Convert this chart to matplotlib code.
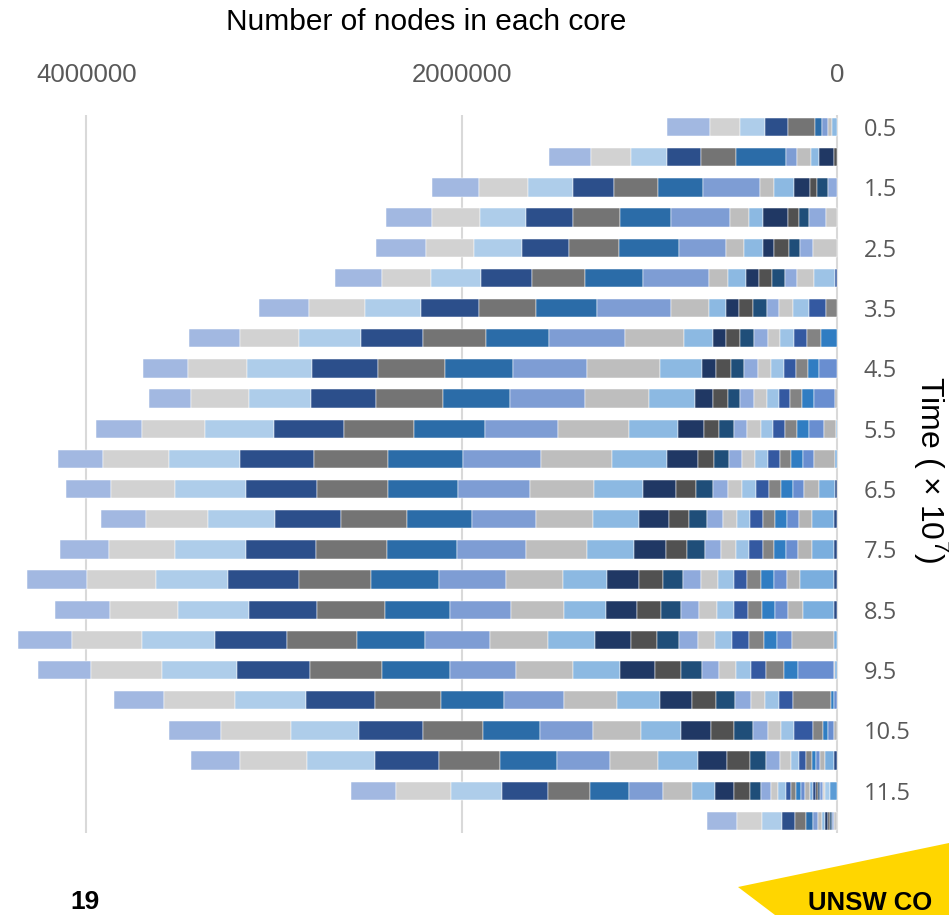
import matplotlib
matplotlib.use("Agg")
import matplotlib.pyplot as plt
from matplotlib.patches import Polygon
import numpy as np

# Time points (x 10^7) and node counts per core (thousands), outermost core first
times = [0.5, 1.0, 1.5, 2.0, 2.5, 3.0, 3.5, 4.0, 4.5, 5.0, 5.5, 6.0,
         6.5, 7.0, 7.5, 8.0, 8.5, 9.0, 9.5, 10.0, 10.5, 11.0, 11.5, 12.0]

core_counts = [
    [231, 156, 137, 121, 144, 37, 32, 23, 25],
    [227, 213, 192, 178, 187, 268, 59, 76, 41, 78, 18],
    [249, 259, 240, 222, 231, 240, 305, 76, 107, 84, 36, 59, 48],
    [247, 256, 245, 249, 248, 276, 314, 101, 73, 131, 62, 50, 94, 57],
    [266, 257, 254, 252, 268, 318, 250, 98, 101, 59, 78, 59, 68, 128],
    [252, 260, 267, 272, 281, 309, 352, 103, 96, 66, 71, 71, 62, 92, 108, 13],
    [266, 298, 302, 305, 307, 323, 396, 201, 92, 69, 76, 71, 67, 75, 84, 89, 59],
    [270, 316, 329, 332, 333, 339, 403, 313, 155, 71, 75, 76, 71, 66, 75, 68, 76, 84],
    [240, 314, 343, 352, 359, 361, 394, 387, 226, 76, 78, 71, 71, 73, 66, 66, 64, 60, 94],
    [229, 305, 334, 346, 353, 357, 403, 341, 241, 98, 78, 68, 71, 71, 62, 62, 62, 66, 108, 13],
    [249, 336, 364, 373, 375, 377, 391, 377, 263, 139, 80, 75, 71, 75, 64, 66, 62, 62, 80, 66, 5],
    [243, 350, 378, 394, 396, 400, 414, 377, 293, 165, 88, 75, 71, 71, 68, 62, 61, 62, 62, 112, 9],
    [240, 341, 375, 380, 378, 373, 382, 341, 266, 174, 105, 94, 77, 75, 75, 71, 62, 62, 62, 80, 85, 9],
    [240, 330, 355, 354, 352, 343, 341, 307, 243, 160, 110, 94, 85, 75, 67, 69, 68, 62, 62, 71, 119, 14],
    [263, 350, 377, 373, 378, 373, 368, 325, 248, 173, 112, 94, 89, 78, 71, 71, 62, 62, 62, 77, 119, 14],
    [323, 368, 384, 376, 382, 364, 355, 305, 237, 168, 130, 104, 94, 94, 83, 71, 75, 67, 71, 71, 181, 14],
    [297, 361, 376, 364, 364, 346, 325, 282, 222, 165, 128, 107, 98, 94, 92, 71, 77, 67, 71, 80, 167, 14],
    [291, 370, 391, 382, 373, 364, 346, 307, 252, 190, 142, 116, 100, 92, 92, 89, 80, 71, 77, 222, 18],
    [279, 382, 400, 387, 382, 364, 350, 307, 249, 187, 139, 110, 94, 89, 80, 80, 92, 77, 190, 9, 9],
    [268, 377, 378, 364, 355, 336, 320, 281, 227, 173, 129, 101, 84, 76, 75, 71, 206, 12, 18],
    [275, 373, 364, 341, 320, 302, 284, 253, 213, 160, 124, 98, 80, 71, 71, 98, 53, 27, 32, 18],
    [261, 357, 362, 343, 323, 307, 280, 258, 211, 157, 120, 89, 71, 61, 44, 37, 30, 23, 21, 27, 48, 14],
    [240, 293, 272, 245, 225, 208, 177, 157, 124, 98, 84, 62, 50, 41, 39, 30, 28, 25, 20, 25, 20,
     12, 14, 12, 12, 14, 23, 39],
    [157, 133, 107, 71, 57, 35, 27, 23, 14, 18, 12, 9, 9, 18],
]

palette = [
    "#A2B8E1", "#D2D2D2", "#AECDEA", "#2C4F8B", "#747474", "#2B6CA8",
    "#7E9DD4", "#BEBEBE", "#8CB9E2", "#203864", "#515151", "#1F4E79",
    "#8FAADC", "#C8C8C8", "#9DC3E6", "#3459A1", "#838383", "#307DC2",
    "#698ED0", "#B4B4B4", "#7AAEDE", "#2A4A85", "#3F3F3F", "#244F80",
    "#7F9FD8", "#CFCFCF", "#A8CCEC", "#5B9BD5",
]

tick_values = [4000000, 2000000, 0]
tick_labels = ["4000000", "2000000", "0"]

W, H = 949, 915
fig = plt.figure(figsize=(W / 100, H / 100), dpi=100)

px_per_unit = 187.7 / 1e6
ax_left_px, ax_right_px = 0, 840
ax_top_px, ax_bottom_px = 115, 833
zero_px = 837
ax = fig.add_axes([ax_left_px / W, 1 - ax_bottom_px / H,
                   (ax_right_px - ax_left_px) / W, (ax_bottom_px - ax_top_px) / H])

# stacked horizontal bars growing leftwards from zero
for i, row in enumerate(core_counts):
    vals = np.array(row, dtype=float) * 1000
    total = vals.sum()
    cum = np.cumsum(vals)
    for j, v in enumerate(vals):
        ax.barh(i, v, left=total - cum[j], height=0.61,
                color=palette[j % len(palette)], edgecolor="white",
                linewidth=0.35, zorder=3)

ax.set_xlim((zero_px - ax_left_px) / px_per_unit, (zero_px - ax_right_px) / px_per_unit)
ax.set_ylim(23.4, -0.4)

ax.set_xticks(tick_values)
ax.set_xticklabels(tick_labels)
ax.xaxis.tick_top()
ax.tick_params(axis="x", length=0, pad=20, labelsize=18.5, labelcolor="#595959")
for lab in ax.get_xticklabels():
    lab.set_family("Liberation Sans")

ax.set_yticks(range(len(times)))
ax.set_yticklabels([f"{t:g}" if i % 2 == 0 else "" for i, t in enumerate(times)])
ax.yaxis.tick_right()
ax.tick_params(axis="y", length=0, pad=17, labelsize=17, labelcolor="#595959")
for lab in ax.get_yticklabels():
    lab.set_family("Open Sans")

ax.grid(axis="x", color="#D9D9D9", linewidth=1.5, zorder=0)
ax.grid(axis="y", visible=False)
ax.set_axisbelow(True)
for s in ax.spines.values():
    s.set_visible(False)

plt.rcParams["mathtext.fontset"] = "custom"
plt.rcParams["mathtext.rm"] = "Liberation Sans"

fig.text(426 / W, 1 - 22 / H, "Number of nodes in each core", ha="center", va="center",
         fontsize=21.5, family="Liberation Sans", color="black")
fig.text(931 / W, 1 - 470 / H, r"Time ( × 10$^{7}$)", ha="center", va="center",
         rotation=270, fontsize=23, family="Liberation Sans", color="black")

# slide footer
fig.text(85 / W, 1 - 902 / H, "19", ha="center", va="center", fontsize=19,
         fontweight="bold", family=["Liberation Sans Narrow", "Liberation Sans"])
poly = Polygon([(738 / W, 1 - 887 / H), (W / W, 1 - 843 / H), (1.0, 0.0), (775 / W, 0.0)],
               closed=True, transform=fig.transFigure, facecolor="#FFD600", edgecolor="none")
fig.patches.append(poly)
fig.text(808 / W, 1 - 903 / H, "UNSW CO", ha="left", va="center", fontsize=18.5,
         fontweight="bold", family=["Liberation Sans Narrow", "Liberation Sans"])

fig.savefig("out.png", dpi=100)
